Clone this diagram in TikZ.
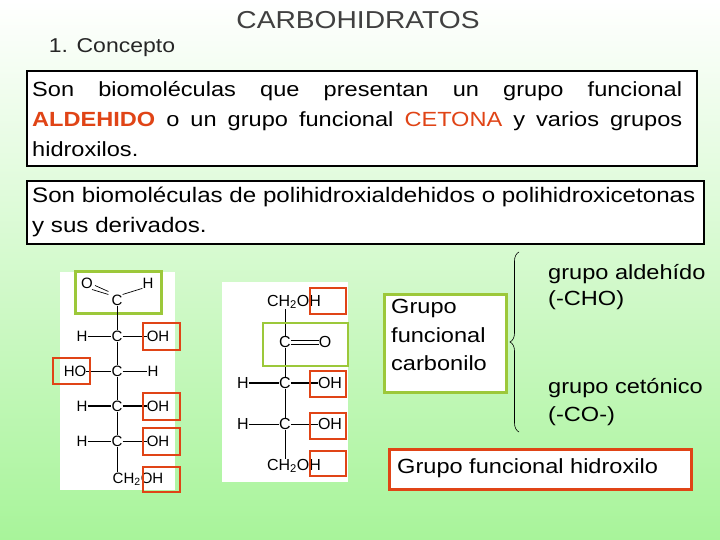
\documentclass[tikz,border=0pt]{standalone}
\usepackage{fontspec}
\setmainfont{Liberation Sans}
\newfontfamily\wide[FakeStretch=1.15]{Liberation Sans}
\usetikzlibrary{decorations.pathreplacing}
\definecolor{rbox}{HTML}{E04416}
\definecolor{gbox}{HTML}{9CC83A}
\definecolor{bgg}{HTML}{A8F49A}
\begin{document}
\begin{tikzpicture}[x=1pt,y=-1pt,
  big/.style={font=\wide\fontsize{21}{30}\selectfont},
  chem/.style={font=\fontsize{15}{16}\selectfont,inner sep=0pt},
  chemr/.style={font=\fontsize{16}{16}\selectfont,inner sep=0pt},
  rb/.style={draw=rbox,line width=2.5pt},
  gb/.style={draw=gbox,line width=2.5pt},
  bond/.style={line width=0.7pt}]
\shade[top color=white,bottom color=bgg] (0,0) rectangle (720,540);
\useasboundingbox (0,0) rectangle (720,540);
\node[font=\wide\fontsize{24.5}{26}\selectfont,text=black!75] (title) at (358,20) {CARBOHIDRATOS};
\node[font=\wide\fontsize{20}{22}\selectfont,text=black!85] (conc) at (112,48) {1. Concepto};
\node[draw,line width=2pt,fill=white,minimum width=670,minimum height=95,anchor=north west,inner sep=0pt] (b1) at (26,70) {};
\node[big,anchor=north west,inner sep=0pt] (t1) at (32,81) {\parbox{650pt}{\wide\fontsize{20.5}{30}\selectfont\hyphenpenalty=10000\exhyphenpenalty=10000 Son biomoléculas que presentan un grupo funcional {\color{rbox}\bfseries ALDEHIDO} o un grupo funcional {\color{rbox}CETONA} y varios grupos hidroxilos.}};
\node[draw,line width=2pt,fill=white,minimum width=677,minimum height=63,anchor=north west,inner sep=0pt] (b2) at (26,180) {};
\node[big,anchor=north west,inner sep=0pt] (t2) at (32,187) {\parbox{665pt}{\raggedright\wide\fontsize{21}{30}\selectfont Son biomoléculas de polihidroxialdehidos o polihidroxicetonas y sus derivados.}};
% left structure
\fill[white] (60,272) rectangle (175,490);
\node[gb,minimum width=86,minimum height=42,anchor=north west] (ga) at (74,270) {};
\node[chem] (O1) at (87,283) {O};
\node[chem] (H1) at (148,283) {H};
\node[chem] (C1) at (117,300) {C};
\draw[bond] ([xshift=-1,yshift=-1]O1.south east) -- ([xshift=-3]C1.north west);
\draw[bond] ([xshift=2,yshift=3]O1.south east) -- ([xshift=-3,yshift=3]C1.north west);
\draw[bond] (C1.north east) -- (H1.south west);
\foreach \y/\n in {336/a,371/b,406/c,441/d}{\node[chem] (C\n) at (117,\y) {C};}
\node[chem] (Ha) at (82,336) {H}; \node[chem] (OHa) at (158,336) {OH};
\node[chem] (HOb) at (75,371) {HO}; \node[chem] (Hb) at (153,371) {H};
\node[chem] (Hc) at (82,406) {H}; \node[chem] (OHc) at (158,406) {OH};
\node[chem] (Hd) at (82,441) {H}; \node[chem] (OHd) at (158,441) {OH};
\node[chem] (CH) at (138,479) {CH\textsubscript{2}OH};
\draw[bond] (C1) -- (Ca) -- (Cb) -- (Cc) -- (Cd) -- (Cd|-CH.north);
\draw[bond] (Ha) -- (Ca) -- (OHa); \draw[bond] (HOb) -- (Cb) -- (Hb);
\draw[line width=1.4pt] (Hc) -- (Cc) -- (OHc); \draw[bond] (Hd) -- (Cd) -- (OHd);
\draw[rb] (143,323) rectangle (180,350);
\draw[rb] (53,358) rectangle (90,384);
\draw[rb] (143,393) rectangle (180,420);
\draw[rb] (143,428) rectangle (180,455);
\draw[rb] (143,467) rectangle (180,492);
% right structure
\fill[white] (222,282) rectangle (348,482);
\node[chemr] (T) at (294,302) {CH\textsubscript{2}OH};
\node[chemr] (Ck) at (285,342) {C};
\node[chemr] (Ok) at (325,342) {O};
\node[chemr] (Ce) at (285,383) {C};
\node[chemr] (Cf) at (285,424) {C};
\node[chemr] (He) at (243,383) {H};
\node[chemr] (OHe) at (330,383) {OH};
\node[chemr] (Hf) at (243,424) {H};
\node[chemr] (OHf) at (330,424) {OH};
\node[chemr] (B) at (294,466) {CH\textsubscript{2}OH};
\draw[bond] (Ck|-T.south) -- (Ck) -- (Ce) -- (Cf) -- (Cf|-B.north);
\draw[bond] ([yshift=-2]Ck.east) -- ([yshift=-2]Ok.west);
\draw[bond] ([yshift=2]Ck.east) -- ([yshift=2]Ok.west);
\draw[line width=1.6pt] (He) -- (Ce) -- (OHe); \draw[bond] (Hf) -- (Cf) -- (OHf);
\draw[gb] (263,323) rectangle (348,366);
\draw[rb] (310,288) rectangle (346,314);
\draw[rb] (310,371) rectangle (346,397);
\draw[rb] (310,413) rectangle (346,439);
\draw[rb] (310,451) rectangle (346,476);
% right text
\node[gb,fill=white,minimum width=122,minimum height=98,anchor=north west] (gc) at (383,293) {};
\node[anchor=north west,inner sep=0pt,align=left,font=\wide\fontsize{20.5}{28.5}\selectfont] (gct) at (391,299) {Grupo\\funcional\\carbonilo};
\coordinate (bt) at (519,252); \coordinate (bb) at (519,432);
\draw[decorate,decoration={brace,amplitude=9pt,mirror},line width=0.6pt] (bt) -- (bb);
\node[anchor=north west,inner sep=0pt,align=left,font=\wide\fontsize{20.5}{26}\selectfont] (ald) at (548,264) {grupo aldehído\\(-CHO)};
\node[anchor=north west,inner sep=0pt,align=left,font=\wide\fontsize{20.5}{28}\selectfont] (cet) at (548,378) {grupo cetónico\\(-CO-)};
\node[rb,fill=white,minimum width=302,minimum height=40,anchor=north west] (hb) at (388,448) {};
\node[anchor=west,inner sep=0pt,font=\wide\fontsize{20.5}{22}\selectfont] (ht) at (397,468) {Grupo funcional hidroxilo};
\end{tikzpicture}
\end{document}
